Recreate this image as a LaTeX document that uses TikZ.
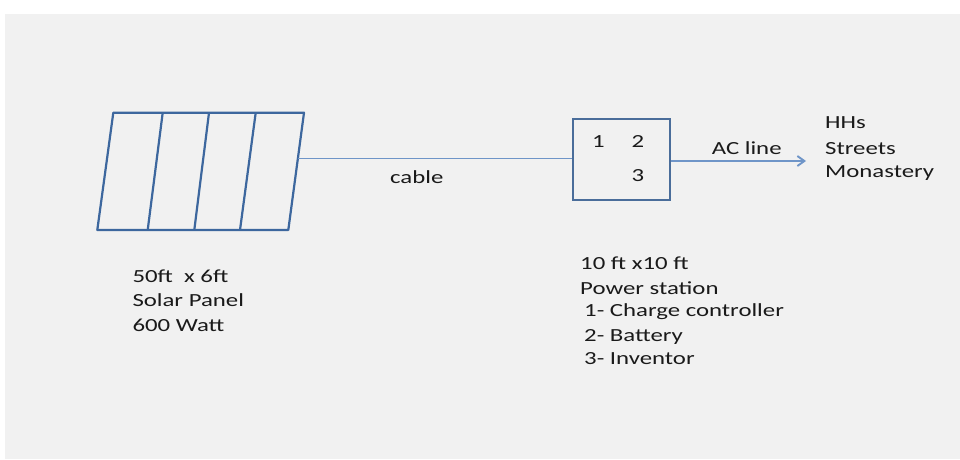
\documentclass[tikz,border=0pt]{standalone}
\usepackage{fontspec}
\setmainfont{Carlito}[FakeStretch=1.34]
\usetikzlibrary{arrows.meta}
\definecolor{bg}{HTML}{F1F1F1}
\definecolor{panelblue}{HTML}{3D679E}
\definecolor{boxblue}{HTML}{4A6D9A}
\definecolor{lineblue}{HTML}{6F95C8}
\definecolor{txt}{HTML}{1A1A1A}
\begin{document}
\begin{tikzpicture}[x=1pt,y=-1pt,
  lbl/.style={anchor=base west, inner sep=0pt, font=\fontsize{18.5}{22}\selectfont, text=txt},
  panel/.style={draw=panelblue, line width=2.2pt, line join=round},
  wire/.style={draw=lineblue, line width=1.9pt},
  stationbox/.style={draw=boxblue, line width=1.8pt, minimum width=96.7pt, minimum height=80.7pt, inner sep=0pt}]
\useasboundingbox (0,0) rectangle (960,459);
\fill[white] (0,0) rectangle (960,459);
\fill[bg] (5,14) rectangle (960,459);

% solar panel
\draw[panel] (113.3,112.7) -- (304,112.7) -- (288.3,230) -- (97.3,230) -- cycle;
\draw[panel] (162.7,112.7) -- (147.7,230);
\draw[panel] (209,112.7) -- (194.3,230);
\draw[panel] (255.7,112.7) -- (240,230);
\coordinate (panelR) at (298,158.5);

% power station box
\node[stationbox] (ps) at (621.7,159.7) {};
\node[lbl] (n1) at (592,147.5) {1};
\node[lbl] (n2) at (631.5,147.5) {2};
\node[lbl] (n3) at (631.5,181) {3};

% cable
\draw[wire] (panelR) -- (panelR -| ps.west);
\node[lbl] (cable) at (390,183.3) {cable};

% AC line
\coordinate (acend) at (806,161);
\draw[wire, -{Straight Barb[length=7pt,width=10pt]}] (ps.east |- acend) -- (acend);
\node[lbl] (ac) at (711.7,154) {AC line};

% loads
\node[lbl] (hh) at (825,128.5) {HHs};
\node[lbl] (st) at (825,154) {Streets};
\node[lbl] (mo) at (825,177.7) {Monastery};

% panel caption
\node[lbl] (p1) at (132.3,282) {50ft~ x 6ft};
\node[lbl] (p2) at (132.3,306.5) {Solar Panel};
\node[lbl] (p3) at (132.3,331) {600 Watt};

% station caption
\node[lbl] (s1) at (580,269.3) {10 ft x10 ft};
\node[lbl] (s2) at (580,294) {Power station};
\node[lbl] (s3) at (584,316) {1- Charge controller};
\node[lbl] (s4) at (584,341) {2- Battery};
\node[lbl] (s5) at (584,364.3) {3- Inventor};
\end{tikzpicture}
\end{document}
